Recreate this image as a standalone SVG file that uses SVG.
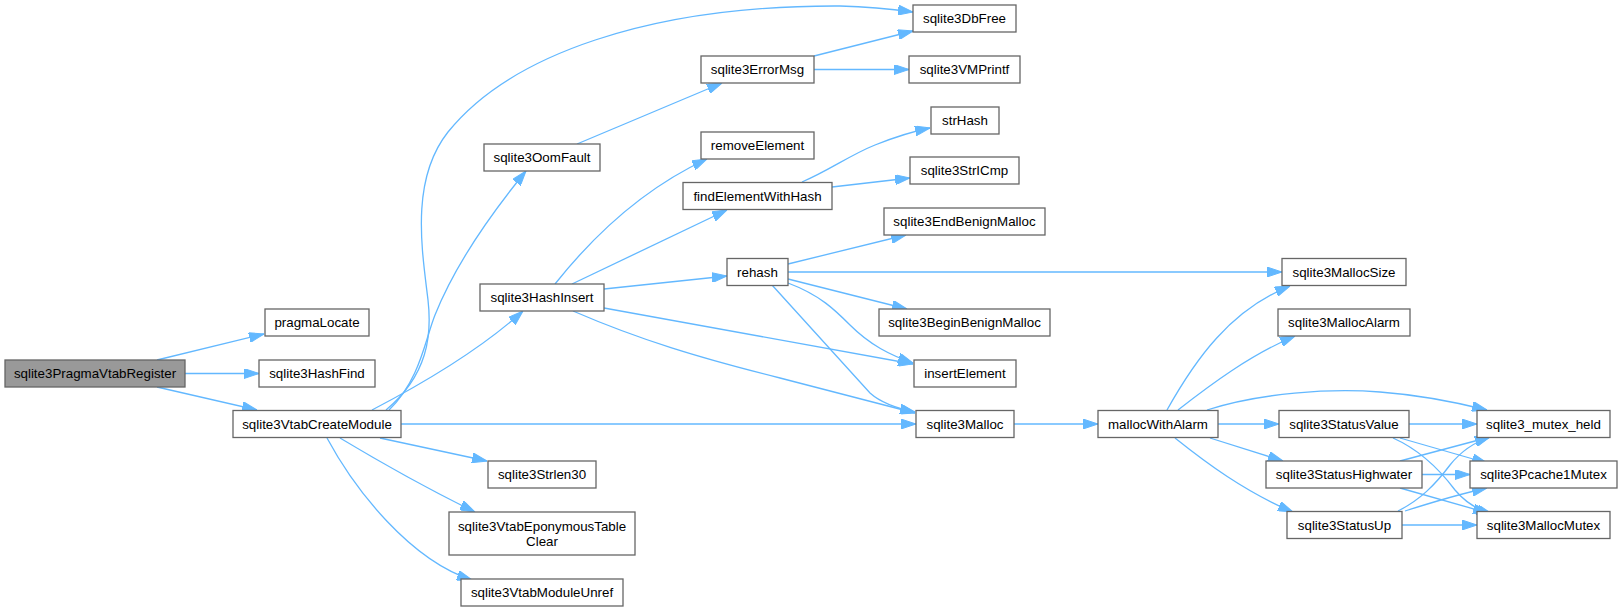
<svg xmlns="http://www.w3.org/2000/svg" width="1622" height="611" viewBox="0 0 1622 611">
<style>
.n rect{fill:#ffffff;stroke:#666666;stroke-width:1.3}
.root rect{fill:#999999}
.n text{font-family:"Liberation Sans",Arial,sans-serif;font-size:13.33px;fill:#000000;text-anchor:middle}
.e path{fill:none;stroke:#63b8ff;stroke-width:1.3;marker-end:url(#ah)}
</style>
<defs>
<marker id="ah" viewBox="0 0 15 10" refX="15" refY="5" markerWidth="15" markerHeight="10" markerUnits="userSpaceOnUse" orient="auto">
<path d="M0,0 L15,5 L0,10 z" fill="#63b8ff" stroke="#63b8ff" stroke-width="1"/>
</marker>
</defs>
<rect x="0" y="0" width="1622" height="611" fill="#ffffff"/>
<g id="connectors" class="e">
<path d="M157,360 L264,334"/>
<path d="M185,373.5 L259,373.5"/>
<path d="M157,387 L257,410"/>
<path d="M386,410 C428,375 432,335 428,300 C422,250 410,180 448,132 C510,55 650,5 840,6 C870,7 890,9 913,12"/>
<path d="M389,410 C420,380 425,340 435,315 C455,265 490,215 526,171"/>
<path d="M372,410 C420,385 480,350 523,311"/>
<path d="M401,424 L916,424"/>
<path d="M380,438 L487,461"/>
<path d="M340,438 C380,462 430,490 475,512"/>
<path d="M327,438 C355,490 410,560 472,580"/>
<path d="M577,144 L722,83"/>
<path d="M814,56 L913,31"/>
<path d="M814,69.5 L909,69.5"/>
<path d="M555,284 C590,240 640,190 707,159"/>
<path d="M572,284 L727,210"/>
<path d="M604,289 L727,276"/>
<path d="M604,308 L913,364"/>
<path d="M573,311 C640,340 700,358 780,378 L915,413"/>
<path d="M802,182 C830,170 850,155 875,145 C895,137 915,131 930,128"/>
<path d="M832,187 L910,178"/>
<path d="M788,264 L906,235"/>
<path d="M788,272 L1282,272"/>
<path d="M788,279 L907,309"/>
<path d="M788,283 C820,295 835,310 850,325 C870,345 890,355 913,363"/>
<path d="M772,285 L870,393 C880,402 895,408 915,412"/>
<path d="M1014,424 L1098,424"/>
<path d="M1167,410 C1195,360 1230,310 1290,286"/>
<path d="M1178,410 C1210,385 1250,355 1295,336"/>
<path d="M1207,410 C1260,393 1330,388 1380,392 C1420,395 1455,402 1487,410"/>
<path d="M1218,424 L1279,424"/>
<path d="M1210,438 L1283,461"/>
<path d="M1175,438 C1205,462 1245,492 1293,512"/>
<path d="M1409,424 L1477,424"/>
<path d="M1400,438 L1487,463"/>
<path d="M1393,438 C1420,450 1440,470 1455,490 C1465,502 1478,510 1492,514"/>
<path d="M1400,461 L1490,437"/>
<path d="M1422,474.5 L1470,474.5"/>
<path d="M1400,488 L1488,513"/>
<path d="M1398,511 C1420,500 1435,485 1450,465 C1462,450 1475,442 1490,437"/>
<path d="M1405,511 C1430,503 1460,494 1487,488"/>
<path d="M1402,525 L1477,525"/>
</g>
<g id="node-sqlite3PragmaVtabRegister" class="n root"><rect x="5" y="360" width="180" height="27"/><text x="95" y="378">sqlite3PragmaVtabRegister</text></g>
<g id="node-pragmaLocate" class="n"><rect x="265" y="309" width="104" height="27"/><text x="317" y="327">pragmaLocate</text></g>
<g id="node-sqlite3HashFind" class="n"><rect x="259" y="360" width="116" height="27"/><text x="317" y="378">sqlite3HashFind</text></g>
<g id="node-sqlite3VtabCreateModule" class="n"><rect x="233" y="410.5" width="168" height="27"/><text x="317" y="428.5">sqlite3VtabCreateModule</text></g>
<g id="node-sqlite3OomFault" class="n"><rect x="484" y="144" width="116" height="27"/><text x="542" y="162">sqlite3OomFault</text></g>
<g id="node-sqlite3HashInsert" class="n"><rect x="480" y="284" width="124" height="27"/><text x="542" y="302">sqlite3HashInsert</text></g>
<g id="node-sqlite3Strlen30" class="n"><rect x="488" y="461" width="108" height="27"/><text x="542" y="479">sqlite3Strlen30</text></g>
<g id="node-sqlite3VtabEponymousTableClear" class="n"><rect x="449" y="512" width="186" height="43"/><text x="542" y="530.5">sqlite3VtabEponymousTable</text><text x="542" y="545.5">Clear</text></g>
<g id="node-sqlite3VtabModuleUnref" class="n"><rect x="461" y="579" width="162" height="27"/><text x="542" y="597">sqlite3VtabModuleUnref</text></g>
<g id="node-sqlite3ErrorMsg" class="n"><rect x="701" y="56" width="113" height="27"/><text x="757.5" y="74">sqlite3ErrorMsg</text></g>
<g id="node-removeElement" class="n"><rect x="701" y="132" width="113" height="27"/><text x="757.5" y="150">removeElement</text></g>
<g id="node-findElementWithHash" class="n"><rect x="683" y="182.5" width="149" height="27"/><text x="757.5" y="200.5">findElementWithHash</text></g>
<g id="node-rehash" class="n"><rect x="727" y="258.5" width="61" height="27"/><text x="757.5" y="276.5">rehash</text></g>
<g id="node-sqlite3DbFree" class="n"><rect x="913" y="5" width="103" height="27"/><text x="964.5" y="23">sqlite3DbFree</text></g>
<g id="node-sqlite3VMPrintf" class="n"><rect x="909" y="56" width="111" height="27"/><text x="964.5" y="74">sqlite3VMPrintf</text></g>
<g id="node-strHash" class="n"><rect x="931" y="107" width="68" height="27"/><text x="965" y="125">strHash</text></g>
<g id="node-sqlite3StrICmp" class="n"><rect x="910" y="157" width="109" height="27"/><text x="964.5" y="175">sqlite3StrICmp</text></g>
<g id="node-sqlite3EndBenignMalloc" class="n"><rect x="884" y="208" width="161" height="27"/><text x="964.5" y="226">sqlite3EndBenignMalloc</text></g>
<g id="node-sqlite3BeginBenignMalloc" class="n"><rect x="879" y="309" width="171" height="27"/><text x="964.5" y="327">sqlite3BeginBenignMalloc</text></g>
<g id="node-insertElement" class="n"><rect x="914" y="360" width="102" height="27"/><text x="965" y="378">insertElement</text></g>
<g id="node-sqlite3Malloc" class="n"><rect x="916" y="410.5" width="98" height="27"/><text x="965" y="428.5">sqlite3Malloc</text></g>
<g id="node-mallocWithAlarm" class="n"><rect x="1098" y="410.5" width="120" height="27"/><text x="1158" y="428.5">mallocWithAlarm</text></g>
<g id="node-sqlite3MallocSize" class="n"><rect x="1282" y="258.5" width="124" height="27"/><text x="1344" y="276.5">sqlite3MallocSize</text></g>
<g id="node-sqlite3MallocAlarm" class="n"><rect x="1278" y="309" width="132" height="27"/><text x="1344" y="327">sqlite3MallocAlarm</text></g>
<g id="node-sqlite3StatusValue" class="n"><rect x="1279" y="410.5" width="130" height="27"/><text x="1344" y="428.5">sqlite3StatusValue</text></g>
<g id="node-sqlite3StatusHighwater" class="n"><rect x="1266" y="461" width="156" height="27"/><text x="1344" y="479">sqlite3StatusHighwater</text></g>
<g id="node-sqlite3StatusUp" class="n"><rect x="1287" y="511.5" width="115" height="27"/><text x="1344.5" y="529.5">sqlite3StatusUp</text></g>
<g id="node-sqlite3_mutex_held" class="n"><rect x="1477" y="410.5" width="133" height="27"/><text x="1543.5" y="428.5">sqlite3_mutex_held</text></g>
<g id="node-sqlite3Pcache1Mutex" class="n"><rect x="1470" y="461" width="147" height="27"/><text x="1543.5" y="479">sqlite3Pcache1Mutex</text></g>
<g id="node-sqlite3MallocMutex" class="n"><rect x="1477" y="511.5" width="133" height="27"/><text x="1543.5" y="529.5">sqlite3MallocMutex</text></g>
</svg>
